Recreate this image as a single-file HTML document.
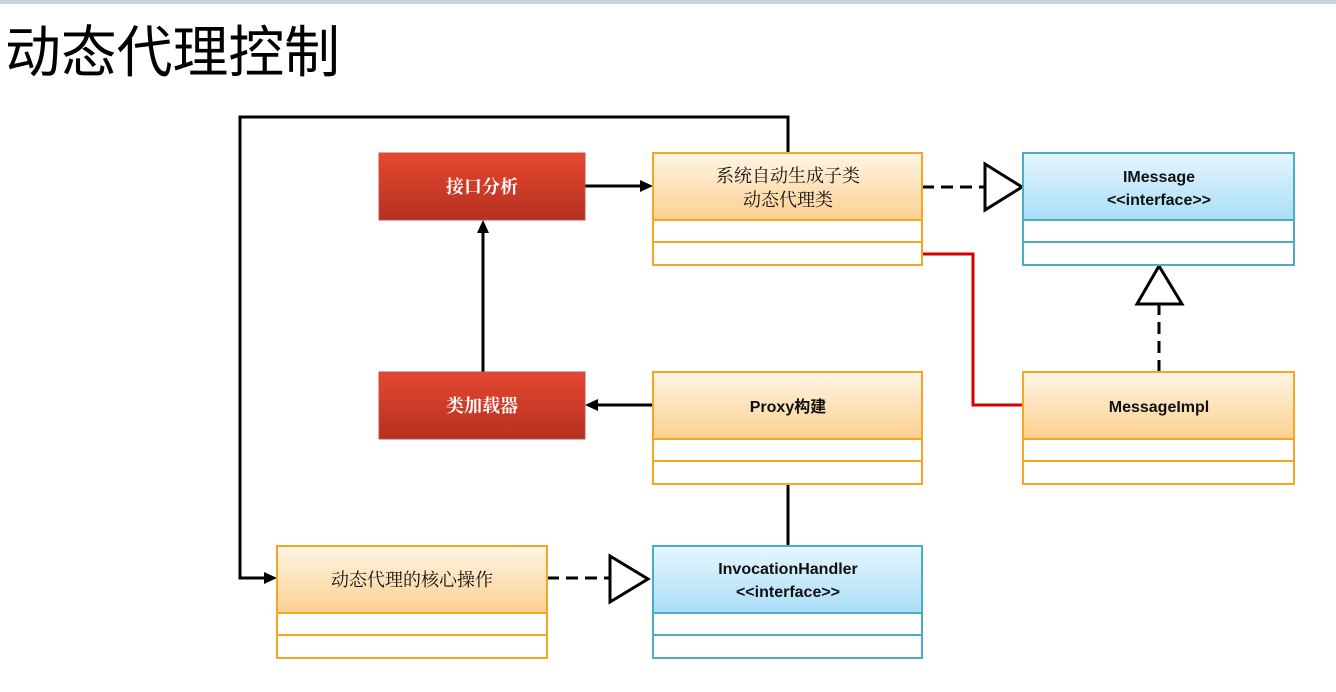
<!DOCTYPE html>
<html><head><meta charset="utf-8"><style>
html,body{margin:0;padding:0;background:#fff;width:1336px;height:692px;overflow:hidden}
svg text{font-family:"Liberation Sans","Noto Sans CJK SC",sans-serif}
svg text.cj{font-family:"Liberation Serif","Noto Serif CJK SC",serif}
</style></head><body>
<svg width="1336" height="692" xmlns="http://www.w3.org/2000/svg">
<defs>
<linearGradient id="og" x1="0" y1="0" x2="0" y2="1"><stop offset="0" stop-color="#fff5e6"/><stop offset="1" stop-color="#fbd08f"/></linearGradient>
<linearGradient id="bg" x1="0" y1="0" x2="0" y2="1"><stop offset="0" stop-color="#e6f6fd"/><stop offset="1" stop-color="#a9def7"/></linearGradient>
<linearGradient id="rg" x1="0" y1="0" x2="0" y2="1"><stop offset="0" stop-color="#e54830"/><stop offset="1" stop-color="#b5301f"/></linearGradient>
</defs>
<rect x="0" y="0" width="1336" height="4" fill="#c9d3de"/>
<text x="5" y="72" font-size="56" style="font-family:'Noto Sans CJK SC',sans-serif" textLength="335" lengthAdjust="spacingAndGlyphs">动态代理控制</text>

<g stroke="#000" stroke-width="3" fill="none">
<polyline points="788,153 788,117 240,117 240,578 268,578"/>
<line x1="585" y1="186" x2="644" y2="186"/>
<line x1="483" y1="372" x2="483" y2="229"/>
<line x1="653" y1="405" x2="594" y2="405"/>
<line x1="788" y1="484" x2="788" y2="546"/>
<line x1="922" y1="187" x2="985" y2="187" stroke-dasharray="12,7"/>
<line x1="1159" y1="372" x2="1159" y2="304" stroke-dasharray="12,7"/>
<line x1="547" y1="578" x2="610" y2="578" stroke-dasharray="12,7"/>
<polygon points="985,164 1022,187 985,210" fill="#fff"/>
<polygon points="1137,304 1159,266 1182,304" fill="#fff"/>
<polygon points="610,556 648,579 610,602" fill="#fff"/>
</g>
<g fill="#000">
<polygon points="653,186 640,180 640,192"/>
<polygon points="483,220 477,233 489,233"/>
<polygon points="585,405 598,399 598,411"/>
<polygon points="277,578 264,572 264,584"/>
</g>
<polyline points="922,254 973,254 973,405 1023,405" stroke="#d40000" stroke-width="3" fill="none"/>

<rect x="379" y="153" width="206" height="67" fill="url(#rg)" stroke="#c0504d"/>
<text x="482" y="193" font-size="18" font-weight="bold" fill="#fff" text-anchor="middle" class="cj">接口分析</text>
<rect x="379" y="372" width="206" height="67" fill="url(#rg)" stroke="#c0504d"/>
<text x="482" y="412" font-size="18" font-weight="bold" fill="#fff" text-anchor="middle" class="cj">类加载器</text>

<g stroke="#f5a623" stroke-width="2">
<rect x="653" y="153" width="269" height="67" fill="url(#og)"/>
<rect x="653" y="220" width="269" height="22" fill="#fff"/>
<rect x="653" y="242" width="269" height="23" fill="#fff"/>
<rect x="653" y="372" width="269" height="67" fill="url(#og)"/>
<rect x="653" y="439" width="269" height="22" fill="#fff"/>
<rect x="653" y="461" width="269" height="23" fill="#fff"/>
<rect x="1023" y="372" width="271" height="67" fill="url(#og)"/>
<rect x="1023" y="439" width="271" height="22" fill="#fff"/>
<rect x="1023" y="461" width="271" height="23" fill="#fff"/>
<rect x="277" y="546" width="270" height="67" fill="url(#og)"/>
<rect x="277" y="613" width="270" height="22" fill="#fff"/>
<rect x="277" y="635" width="270" height="23" fill="#fff"/>
</g>
<g stroke="#4bacc6" stroke-width="2">
<rect x="1023" y="153" width="271" height="67" fill="url(#bg)"/>
<rect x="1023" y="220" width="271" height="22" fill="#fff"/>
<rect x="1023" y="242" width="271" height="23" fill="#fff"/>
<rect x="653" y="546" width="269" height="67" fill="url(#bg)"/>
<rect x="653" y="613" width="269" height="22" fill="#fff"/>
<rect x="653" y="635" width="269" height="23" fill="#fff"/>
</g>
<g font-size="17" text-anchor="middle" fill="#111">
<text x="788" y="182" font-size="18" class="cj">系统自动生成子类</text>
<text x="788" y="206" font-size="18" class="cj">动态代理类</text>
<text x="788" y="412" font-weight="bold" font-size="16">Proxy构建</text>
<text x="1159" y="412" font-weight="bold" font-size="16">MessageImpl</text>
<text x="412" y="586" font-size="18" class="cj">动态代理的核心操作</text>
<text x="1159" y="182" font-weight="bold" font-size="16">IMessage</text>
<text x="1159" y="205" font-weight="bold" font-size="16">&lt;&lt;interface&gt;&gt;</text>
<text x="788" y="574" font-weight="bold" font-size="16">InvocationHandler</text>
<text x="788" y="597" font-weight="bold" font-size="16">&lt;&lt;interface&gt;&gt;</text>
</g>
</svg>
</body></html>
